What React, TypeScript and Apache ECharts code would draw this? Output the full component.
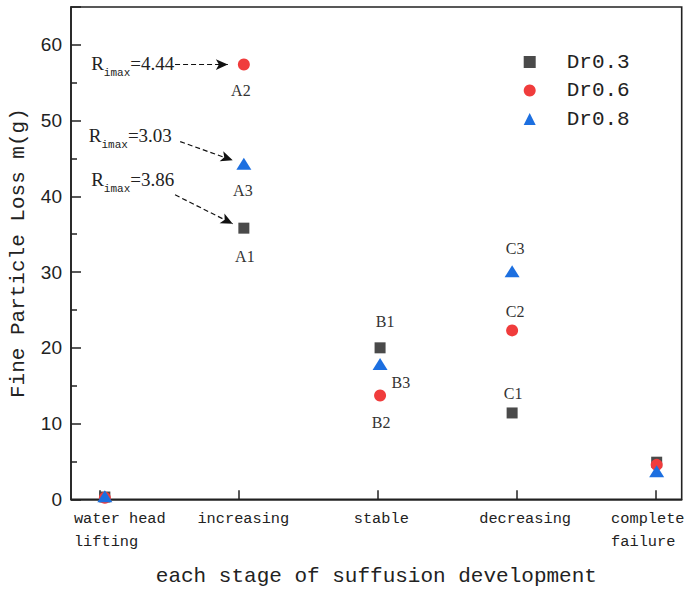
import React, { useEffect, useRef } from 'react';
import * as echarts from 'echarts';

// ---- data ----
const stageNames = ['water head\nlifting', 'increasing', 'stable', 'decreasing', 'complete\nfailure'];
const stageTicks = [1, 2, 3, 4, 5];
const pointX = [1.04, 2.04, 3.02, 3.97, 5.01];

const seriesNames = ['Dr0.3', 'Dr0.6', 'Dr0.8'];
const dr03 = [0.3, 35.8, 20.0, 11.4, 4.9];
const dr06 = [0.2, 57.4, 13.7, 22.3, 4.55];
const dr08 = [0.4, 44.3, 17.85, 30.1, 3.7];
const tags03 = ['', 'A1', 'B1', 'C1', ''];
const tags06 = ['', 'A2', 'B2', 'C2', ''];
const tags08 = ['', 'A3', 'B3', 'C3', ''];

// R_imax annotations (A2, A3, A1)
const rimaxValues = ['4.44', '3.03', '3.86'];
const rimaxTextAt = [[0.938, 57.5], [0.921, 48.0], [0.938, 42.16]];
const arrowFrom = [[1.545, 57.4], [1.582, 47.23], [1.545, 40.2]];
const arrowTo = [[1.925, 57.4], [1.96, 44.75], [1.96, 36.38]];

// ---- styles ----
const MONO = 'Liberation Mono';
const SERIF = 'Liberation Serif';
const INK = '#222';
const colors = ['#4a4a4a', '#f03c3c', '#1c6fe0'];
const symbols = ['rect', 'circle', 'triangle'];
const symbolSizes: any[] = [11, 12, [15, 12]];

const tagLayout: Record<string, any> = {
  A1: { position: 'bottom', distance: 15, offset: [1, 0] },
  A2: { position: 'bottom', distance: 12, offset: [-3, 0] },
  A3: { position: 'bottom', distance: 13, offset: [-1, 0] },
  B1: { position: 'top', distance: 13, offset: [5, 0] },
  B2: { position: 'bottom', distance: 13, offset: [1, 0] },
  B3: { position: 'right', distance: 4, offset: [0, 18] },
  C1: { position: 'top', distance: 6, offset: [1, 0] },
  C2: { position: 'top', distance: 5, offset: [3, 0] },
  C3: { position: 'top', distance: 9, offset: [3, 0] },
};

function buildData(values: number[], tags: string[]) {
  return values.map((v, i) => {
    const item: any = { value: [pointX[i], v] };
    const t = tags[i];
    if (t) item.label = { show: true, formatter: t, ...tagLayout[t] };
    return item;
  });
}

const labelRichBase = { fontFamily: MONO, fontSize: 15.3, color: INK, lineHeight: 23 };
const xRich: Record<string, any> = {
  s0: { ...labelRichBase, align: 'left', padding: [0, 0, 0, 41] },
  s1: { ...labelRichBase, padding: [0, 0, 0, 10] },
  s2: { ...labelRichBase, padding: [0, 0, 0, 8] },
  s3: { ...labelRichBase, padding: [0, 0, 0, 17.6] },
  s4: { ...labelRichBase, align: 'left', padding: [0, 15, 0, 0] },
};

export default function App() {
  const ref = useRef<HTMLDivElement>(null);
  useEffect(() => {
    document.body.style.margin = '0';
    const chart = echarts.init(ref.current as HTMLDivElement, null, { renderer: 'svg' });
    const allValues = [dr03, dr06, dr08];
    const allTags = [tags03, tags06, tags08];
    const series: any[] = seriesNames.map((name, k) => ({
      name,
      type: 'scatter',
      symbol: symbols[k],
      symbolSize: symbolSizes[k],
      itemStyle: { color: colors[k], opacity: 1 },
      label: { show: false, fontFamily: SERIF, fontSize: 16, color: '#333' },
      data: buildData(allValues[k], allTags[k]),
      z: 3 + k,
    }));
    series.push({
      name: 'annotations',
      type: 'scatter',
      data: [],
      silent: true,
      markLine: {
        silent: true,
        symbol: ['none', 'arrow'],
        symbolSize: [8, 12],
        lineStyle: { color: '#111', width: 1.2, type: [5, 3] },
        label: { show: false },
        data: arrowFrom.map((f, i) => [{ coord: f }, { coord: arrowTo[i] }]),
      },
      markPoint: {
        silent: true,
        symbol: 'circle',
        symbolSize: 1,
        itemStyle: { color: 'rgba(0,0,0,0)' },
        label: {
          show: true,
          position: 'right',
          distance: 0,
          rich: {
            r: { fontFamily: SERIF, fontSize: 19, color: INK },
            s: { fontFamily: MONO, fontSize: 11, color: INK, padding: [18, 0, 0, 0] },
            v: { fontFamily: SERIF, fontSize: 19, color: INK },
          },
        },
        data: rimaxValues.map((v, i) => ({
          coord: rimaxTextAt[i],
          label: { formatter: `{r|R}{s|imax}{v|=${v}}` },
        })),
      },
    });

    const axisLineStyle = { color: INK, width: 1.6 };
    chart.setOption({
      animation: false,
      textStyle: { fontFamily: MONO },
      grid: {
        left: 71,
        right: 4.3,
        top: 7,
        bottom: 89.7,
        show: true,
        borderColor: INK,
        borderWidth: 1.6,
        containLabel: false,
        outerBoundsMode: 'none',
      },
      legend: {
        data: seriesNames,
        orient: 'vertical',
        left: 523.7,
        top: 48,
        padding: 0,
        itemWidth: 12,
        itemHeight: 12,
        itemGap: 0.5,
        textStyle: { fontFamily: MONO, fontSize: 21, color: INK, lineHeight: 22, padding: [6, 0, 0, 26] },
      },
      xAxis: {
        type: 'value',
        min: 0.7964,
        max: 5.19,
        name: 'each stage of suffusion development',
        nameLocation: 'middle',
        nameGap: 67,
        nameTextStyle: { fontFamily: MONO, fontSize: 21, color: INK },
        axisLine: { show: true, lineStyle: axisLineStyle },
        axisTick: { show: true, inside: true, length: 9, customValues: stageTicks, lineStyle: { color: INK, width: 1.5 } },
        axisLabel: {
          customValues: stageTicks,
          margin: 8,
          formatter: (val: number) => {
            const i = stageTicks.indexOf(Math.round(val * 1000) / 1000);
            if (i < 0) return '';
            return stageNames[i].split('\n').map((l) => `{s${i}|${l}}`).join('\n');
          },
          rich: xRich,
        },
        splitLine: { show: false },
      },
      yAxis: {
        type: 'value',
        min: 0,
        max: 65,
        interval: 10,
        name: 'Fine Particle Loss m(g)',
        nameLocation: 'middle',
        nameGap: 42,
        nameTextStyle: { fontFamily: MONO, fontSize: 21, color: INK },
        axisLine: { show: true, lineStyle: axisLineStyle },
        axisTick: { show: true, inside: true, length: 10, lineStyle: { color: INK, width: 1.5 } },
        minorTick: { show: true, splitNumber: 2, length: 6, lineStyle: { color: INK, width: 1.5 } },
        axisLabel: { margin: 9, fontFamily: 'Liberation Sans', fontSize: 19, color: INK, showMaxLabel: false },
        splitLine: { show: false },
        minorSplitLine: { show: false },
      },
      series,
    });
    return () => chart.dispose();
  }, []);
  return <div ref={ref} style={{ width: 686, height: 589 }} />;
}
